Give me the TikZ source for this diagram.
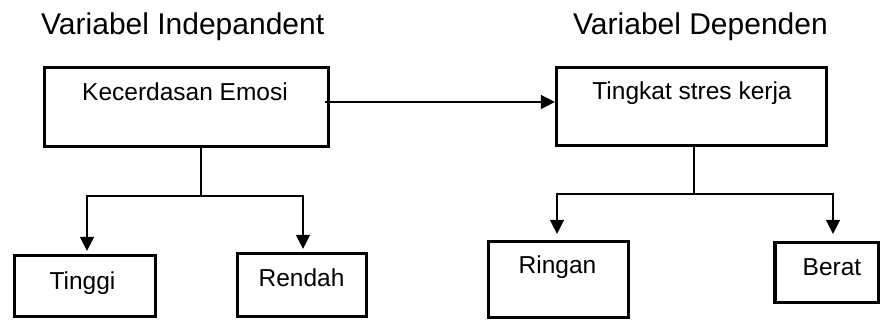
\documentclass[tikz,border=0pt]{standalone}
\usepackage{fontspec}
\setmainfont{Liberation Sans}
\usetikzlibrary{arrows.meta}
\begin{document}
\begin{tikzpicture}[x=1pt,y=-1pt,
  box/.style={draw=black,line width=3.2pt,inner sep=0pt,fill=white},
  lbl/.style={anchor=base,inner sep=0pt,font=\fontsize{24.5}{28}\selectfont},
  ttl/.style={anchor=base west,inner sep=0pt,font=\fontsize{30}{34}\selectfont},
  conn/.style={draw=black,line width=1.4pt},
  arr/.style={conn,-{Triangle[length=14pt,width=14pt]}}]
\useasboundingbox (0,0) rectangle (880,320);
\fill[white] (0,0) rectangle (880,320);
% titles
\node[ttl] (t1) at (41,35) {Variabel Indepandent};
\node[ttl] (t2) at (573,35) {Variabel Dependen};
% boxes
\node[box,minimum width=284pt,minimum height=79pt] (ke) at (186.5,107) {};
\node[box,minimum width=270pt,minimum height=78pt] (ts) at (691.5,106.5) {};
\node[box,minimum width=141pt,minimum height=61pt] (ti) at (85,286) {};
\node[box,minimum width=129pt,minimum height=63pt] (re) at (302,285) {};
\node[box,minimum width=140pt,minimum height=76pt] (ri) at (558.5,279.5) {};
\node[box,minimum width=104pt,minimum height=60pt] (be) at (827,272.5) {};
% labels
\node[lbl] (lke) at (185,101) {Kecerdasan Emosi};
\node[lbl] (lts) at (692,100) {Tingkat stres kerja};
\node[lbl] (lti) at (82.5,289) {Tinggi};
\node[lbl] (lre) at (301.5,286) {Rendah};
\node[lbl] (lri) at (557.5,273) {Ringan};
\node[lbl] (lbe) at (832,275) {Berat};
% main arrow
\draw[arr] ([xshift=-5pt,yshift=5pt]ke.east) -- ([yshift=4.5pt]ts.west);
% left tree
\coordinate (kj) at (201,196);
\draw[conn] (ke.south -| kj) -- (kj);
\draw[arr] (kj) -| ([xshift=2pt,yshift=3pt]ti.north);
\draw[arr] (kj) -| ([xshift=1pt,yshift=3pt]re.north);
% right tree
\coordinate (tj) at (694,194);
\draw[conn] (ts.south -| tj) -- (tj);
\draw[arr] (tj) -| ([xshift=-1.5pt,yshift=6pt]ri.north);
\draw[arr] (tj) -| ([xshift=6pt,yshift=7pt]be.north);
\end{tikzpicture}
\end{document}
